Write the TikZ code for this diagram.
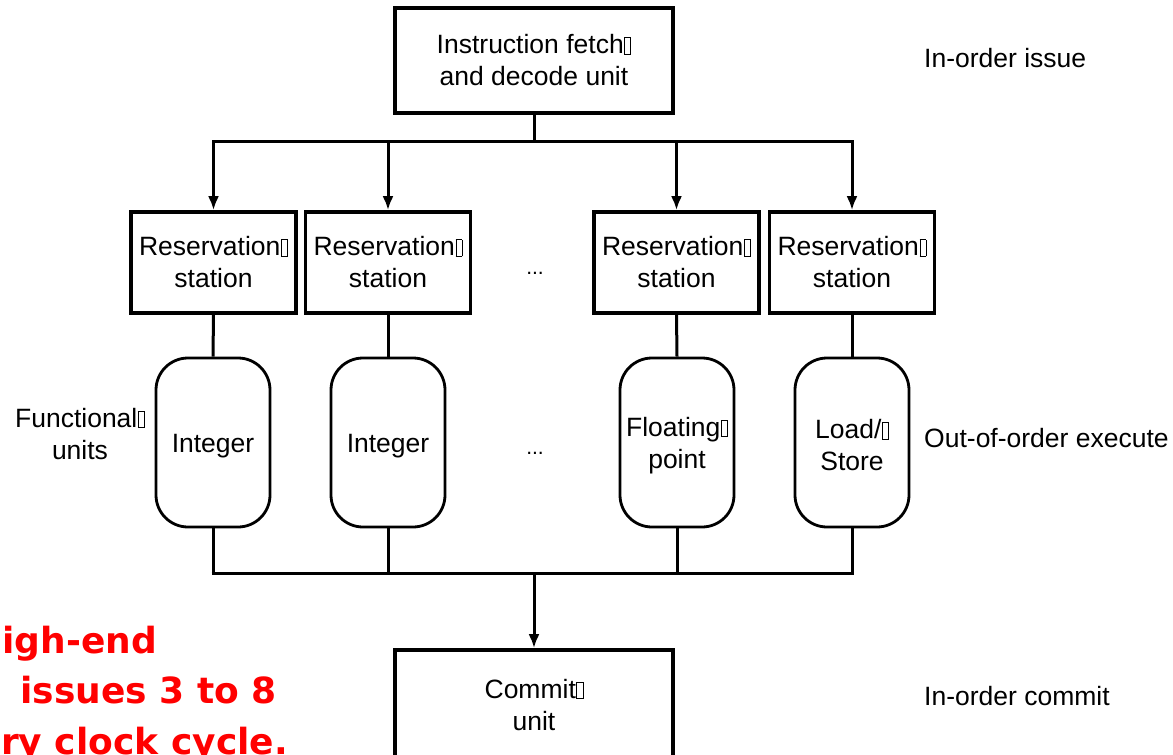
\documentclass[tikz,border=0pt]{standalone}
\usepackage{fontspec}
\setmainfont{Liberation Sans}
\newfontfamily\notefont{DejaVu Sans}
\usetikzlibrary{arrows.meta}
% placeholder box left by a missing glyph
\newcommand{\gbox}{{\fboxsep=0pt\fboxrule=0.8pt\kern0.6pt\fbox{\rule{0pt}{0.6em}\hspace{0.2em}}}}
\tikzset{
  lbl/.style={font=\fontsize{26.5}{32}\selectfont, align=center, inner sep=0pt},
  blockbox/.style={lbl, draw, line width=3.6pt, minimum width=#1},
  blockbox/.default=165pt,
  fubox/.style={draw, line width=2.8pt, rounded corners=32pt,
    minimum width=114pt, minimum height=169pt, inner sep=0pt},
  wire/.style={line width=3pt},
  feed/.style={wire, -{Latex[length=14pt,width=11pt]}},
  side/.style={font=\fontsize{26.5}{32}\selectfont, inner sep=0pt, anchor=base west},
  dots/.style={font=\fontsize{21}{24}\selectfont, inner sep=0pt},
  note/.style={font=\notefont\bfseries\fontsize{36}{50}\selectfont, text=red, inner sep=0pt}
}
\begin{document}
\begin{tikzpicture}[x=1pt, y=-1pt]
\useasboundingbox (0,0) rectangle (1173,755);
\clip (0,0) rectangle (1173,755);
\fill[white] (0,0) rectangle (1173,755);

% issue stage
\node[blockbox=278pt, minimum height=105pt] (ifu) at (534,60.5) {Instruction fetch\gbox\\and decode unit};

% reservation stations
\foreach \i/\x in {1/213.5, 2/388, 3/676.5, 4/852}
  \node[blockbox=165pt, minimum height=101pt] (rs\i) at (\x,262.5) {Reservation\gbox\\station};

% functional units (outline, then its label set a little lower)
\foreach \i/\x in {1/213, 2/388, 3/677, 4/852}
  \node[fubox] (fu\i) at (\x,442.5) {};
\node[lbl] (t1) at ([yshift=-3.5pt]fu1.center) {Integer};
\node[lbl] (t2) at ([yshift=-3.5pt]fu2.center) {Integer};
\node[lbl] (t3) at ([yshift=-3pt]fu3.center) {Floating\gbox\\point};
\node[lbl] (t4) at ([yshift=-3pt]fu4.center) {Load/\gbox\\Store};

% commit stage
\node[blockbox=278pt, minimum height=110pt] (cu) at (534,705) {Commit\gbox\\unit};

% dispatch bus
\coordinate (top) at (0,141);
\draw[wire] (ifu.south) -- (ifu.south |- top);
\draw[wire] ([xshift=-1.5pt]rs1.north |- top) -- ([xshift=1.5pt]rs4.north |- top);
\foreach \i in {1,...,4}
  \draw[feed] (rs\i.north |- top) -- (rs\i.north);

% station to unit links
\foreach \i in {1,...,4}
  \draw[wire] (rs\i.south) -- (fu\i.north);

% result bus
\coordinate (bot) at (0,573);
\foreach \i in {1,...,4}
  \draw[wire] (fu\i.south) -- (fu\i.south |- bot);
\draw[wire] ([xshift=-1.5pt]fu1.south |- bot) -- ([xshift=1.5pt]fu4.south |- bot);
\draw[feed] (cu.north |- bot) -- (cu.north);

% ellipses between columns
\node[dots] (d1) at (535,273) {...};
\node[dots] (d2) at (535,453) {...};

% stage labels
\node[side] (l1) at (924,67) {In-order issue};
\node[side] (l2) at (924,447) {Out-of-order execute};
\node[side] (l3) at (924,705) {In-order commit};
\node[lbl] (l4) at (80,434) {Functional\gbox\\units};

% annotation
\node[note, anchor=base east] (n1) at (157,653) {High-end};
\node[note, anchor=base east] (n2) at (277,703) {issues 3 to 8};
\node[note, anchor=base east] (n3) at (288,754) {every clock cycle.};
\end{tikzpicture}
\end{document}
